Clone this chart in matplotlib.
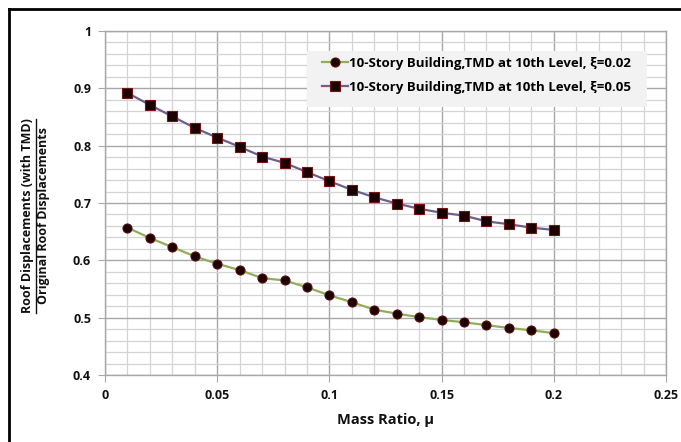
import matplotlib
matplotlib.use("Agg")
import matplotlib.pyplot as plt
from matplotlib.lines import Line2D
from matplotlib.patches import Rectangle
from matplotlib.ticker import MultipleLocator, FixedLocator

plt.rcParams['font.family'] = ['Open Sans', 'DejaVu Sans']
plt.rcParams['font.weight'] = 'bold'

# Mass ratio values
mass_ratio = [0.01, 0.02, 0.03, 0.04, 0.05, 0.06, 0.07, 0.08, 0.09, 0.10,
              0.11, 0.12, 0.13, 0.14, 0.15, 0.16, 0.17, 0.18, 0.19, 0.20]

# Roof displacement ratio, damping 0.02
ratio_xi002 = [0.657, 0.639, 0.623, 0.607, 0.594, 0.583, 0.569, 0.565, 0.553, 0.539,
               0.527, 0.514, 0.507, 0.501, 0.496, 0.492, 0.487, 0.482, 0.478, 0.473]

# Roof displacement ratio, damping 0.05
ratio_xi005 = [0.892, 0.871, 0.851, 0.831, 0.814, 0.798, 0.781, 0.770, 0.754, 0.738,
               0.723, 0.710, 0.699, 0.690, 0.683, 0.678, 0.668, 0.663, 0.657, 0.653]

labels = ["10-Story Building,TMD at 10th Level, \u03be=0.02",
          "10-Story Building,TMD at 10th Level, \u03be=0.05"]
x_ticks = [0, 0.05, 0.1, 0.15, 0.2, 0.25]
x_ticklabels = ["0", "0.05", "0.1", "0.15", "0.2", "0.25"]
y_ticks = [0.4, 0.5, 0.6, 0.7, 0.8, 0.9, 1.0]
y_ticklabels = ["0.4", "0.5", "0.6", "0.7", "0.8", "0.9", "1"]

W, H = 681, 442
fig = plt.figure(figsize=(W / 100, H / 100), dpi=100)
fig.patch.set_facecolor('white')

ax = fig.add_axes([105 / W, 1 - 375 / H, (666 - 105) / W, (375 - 31) / H])
ax.set_xlim(0, 0.25)
ax.set_ylim(0.4, 1.0)

ax.xaxis.set_major_locator(FixedLocator(x_ticks))
ax.set_xticklabels(x_ticklabels)
ax.yaxis.set_major_locator(FixedLocator(y_ticks))
ax.set_yticklabels(y_ticklabels)
ax.xaxis.set_minor_locator(MultipleLocator(0.01))
ax.yaxis.set_minor_locator(MultipleLocator(0.02))

ax.grid(which='major', color='#a8a8a8', linewidth=1.0)
ax.grid(which='minor', color='#d4d4d4', linewidth=0.9)
ax.set_axisbelow(True)
for s in ax.spines.values():
    s.set_color('#a8a8a8')
    s.set_linewidth(1.0)

ax.tick_params(axis='both', which='major', length=5, color='#a8a8a8',
               labelsize=9, labelcolor='#111111', pad=5)
ax.tick_params(axis='both', which='minor', length=0)
for lab in ax.get_xticklabels() + ax.get_yticklabels():
    lab.set_fontweight('bold')

ax.plot(mass_ratio, ratio_xi002, color='#8fae5a', linewidth=1.6,
        marker='o', markersize=6.5, markerfacecolor='#1a0000',
        markeredgecolor='#5a0a0a', markeredgewidth=0.8, label=labels[0])
ax.plot(mass_ratio, ratio_xi005, color='#6f5f8f', linewidth=1.6,
        marker='s', markersize=6.5, markerfacecolor='#1a0000',
        markeredgecolor='#7a1010', markeredgewidth=0.8, label=labels[1])

# Legend panel background, drawn inside the axes below the legend
panel = Rectangle((307 / W, 1 - 107 / H), (647 - 307) / W, (107 - 51) / H,
                  transform=fig.transFigure, facecolor='#f2f2f2',
                  edgecolor='none', zorder=3, clip_on=False)
ax.add_artist(panel)
leg = ax.legend(loc='center left', bbox_to_anchor=(322 / W, 1 - 75.5 / H),
                bbox_transform=fig.transFigure, frameon=False,
                prop={'weight': 'bold', 'size': 9.5},
                handlelength=2.0, handletextpad=0.05, labelspacing=0.85,
                borderpad=0, borderaxespad=0)
leg.set_zorder(6)

ax.set_xlabel("Mass Ratio, \u03bc", fontsize=10.5, fontweight='bold',
              color='#111111', labelpad=8)

# Stacked y-axis label: numerator over denominator with a dividing bar
ymid = 1 - 216 / H
num = fig.text(27 / W, ymid, "Roof Displacements (with TMD)", rotation=90,
               ha='center', va='center', fontsize=9, fontweight='bold',
               color='#111111')
den = fig.text(44 / W, ymid, "Original Roof Displacements", rotation=90,
               ha='center', va='center', fontsize=9, fontweight='bold',
               color='#111111')
fig.canvas.draw()
bb = num.get_window_extent(fig.canvas.get_renderer()).transformed(fig.transFigure.inverted())
fig.add_artist(Line2D([35.5 / W, 35.5 / W], [bb.y0, bb.y1], transform=fig.transFigure,
                      color='#111111', linewidth=1.0))

# Outer frame, visible on the left and top edges
fig.add_artist(Line2D([9 / W, 9 / W], [0, 1 - 9 / H], transform=fig.transFigure,
                      color='black', linewidth=2.0))
fig.add_artist(Line2D([9 / W, 1], [1 - 9 / H, 1 - 9 / H], transform=fig.transFigure,
                      color='black', linewidth=2.0))

fig.savefig("out.png", dpi=100)
